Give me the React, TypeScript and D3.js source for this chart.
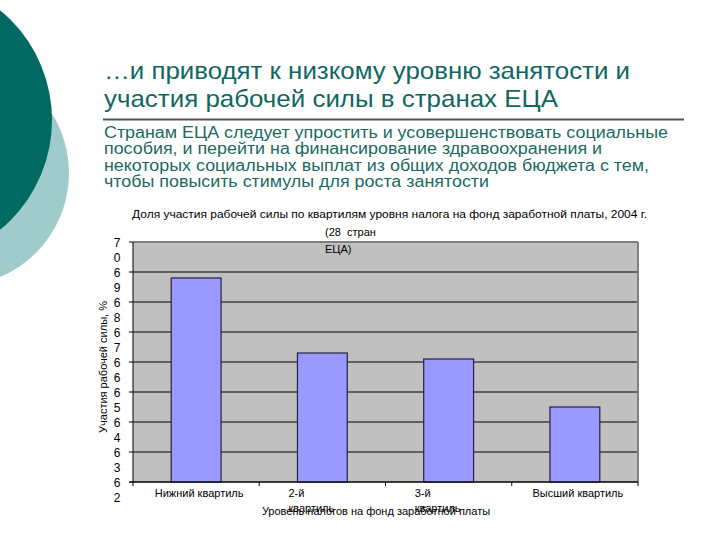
import React from "react";
import * as d3 from "d3";

const titleLines = [
  "…и приводят к низкому уровню занятости и",
  "участия рабочей силы в странах ЕЦА",
];
const bodyLines = [
  "Странам ЕЦА следует упростить и усовершенствовать социальные",
  "пособия, и перейти на финансирование здравоохранения и",
  "некоторых социальных выплат из общих доходов бюджета с тем,",
  "чтобы повысить стимулы для роста занятости",
];
const chartTitle =
  "Доля участия рабочей силы по квартилям уровня налога на фонд заработной платы, 2004 г.";
const chartSubtitle = ["(28  стран", "ЕЦА)"];
const yAxisTitle = "Участия рабочей силы, %";
const xAxisTitle = "Уровень налогов на фонд заработной платы";

const categories = ["Нижний квартиль", "2-й квартиль", "3-й квартиль", "Высший квартиль"];
const categoryLabelLines = [["Нижний квартиль"], ["2-й", "квартиль"], ["3-й", "квартиль"], ["Высший квартиль"]];
const values = [68.8, 66.3, 66.1, 64.5];
const yTicks = [62, 63, 64, 65, 66, 67, 68, 69, 70];

const titleWidths = [526, 454];
const bodyWidths = [564, 498, 545, 385];

export default function App() {
  const plotLeft = 133;
  const plotRight = 638;
  const plotTop = 242;
  const plotBottom = 482;

  const x = d3
    .scaleBand<string>()
    .domain(categories)
    .range([plotLeft, plotRight])
    .paddingInner(0.605)
    .paddingOuter(0.3025);
  const y = d3.scaleLinear().domain([62, 70]).range([plotBottom, plotTop]);
  const step = x.step();

  const chartFont = "'Liberation Sans', Arial, sans-serif";
  const titleColor = "#11675f";
  const bodyColor = "#1b6a60";

  return (
    <svg
      width={720}
      height={540}
      style={{ position: "fixed", left: 0, top: 0, background: "#fff" }}
      fontFamily={chartFont}
    >
      <rect x={0} y={0} width={720} height={540} fill="#ffffff" />
      {/* decorative circles */}
      <circle cx={-44} cy={173} r={113} fill="#9fcbcb" />
      <circle cx={-90} cy={120} r={142} fill="#006a62" />

      {/* slide title */}
      {titleLines.map((t, i) => (
        <text
          key={i}
          x={104}
          y={79 + i * 28}
          fontSize={24}
          fill={titleColor}
          textLength={titleWidths[i]}
          lengthAdjust="spacingAndGlyphs"
        >
          {t}
        </text>
      ))}
      <line x1={103} x2={684} y1={119.5} y2={119.5} stroke="#555" strokeWidth={2} />
      {bodyLines.map((t, i) => (
        <text
          key={i}
          x={104}
          y={137.5 + i * 16.5}
          fontSize={16}
          fill={bodyColor}
          textLength={bodyWidths[i]}
          lengthAdjust="spacingAndGlyphs"
        >
          {t}
        </text>
      ))}

      {/* chart titles */}
      <text x={132} y={218} fontSize={11} fill="#000" textLength={515} lengthAdjust="spacingAndGlyphs">
        {chartTitle}
      </text>

      {/* plot area */}
      <rect x={plotLeft} y={plotTop} width={plotRight - plotLeft} height={plotBottom - plotTop} fill="#c0c0c0" />
      {yTicks.map((v) => (
        <line key={"g" + v} x1={plotLeft} x2={plotRight} y1={y(v)} y2={y(v)} stroke="#000" strokeWidth={1} />
      ))}
      <line x1={plotLeft} x2={plotRight} y1={plotTop} y2={plotTop} stroke="#808080" strokeWidth={2} />
      <line x1={plotRight} x2={plotRight} y1={plotTop} y2={plotBottom} stroke="#808080" strokeWidth={2} />

      {chartSubtitle.map((t, i) => (
        <text key={i} x={325} y={236 + i * 17} fontSize={11} fill="#000" style={{ whiteSpace: "pre" }}>
          {t}
        </text>
      ))}

      {/* bars */}
      {categories.map((c, i) => (
        <rect
          key={c}
          x={x(c)}
          y={y(values[i])}
          width={x.bandwidth()}
          height={plotBottom - y(values[i])}
          fill="#9999ff"
          stroke="#222244"
          strokeWidth={1.2}
        />
      ))}

      {/* axes */}
      <line x1={plotLeft} x2={plotLeft} y1={plotTop} y2={plotBottom} stroke="#000" strokeWidth={1} />
      <line x1={plotLeft - 4} x2={plotRight} y1={plotBottom} y2={plotBottom} stroke="#000" strokeWidth={1} />
      {yTicks.map((v) => (
        <line key={"t" + v} x1={plotLeft - 4} x2={plotLeft} y1={y(v)} y2={y(v)} stroke="#000" />
      ))}
      {[0, 1, 2, 3, 4].map((k) => (
        <line
          key={"xt" + k}
          x1={plotLeft + k * step}
          x2={plotLeft + k * step}
          y1={plotBottom}
          y2={plotBottom + 4}
          stroke="#000"
        />
      ))}

      {/* y tick labels, split into two lines as in original */}
      {yTicks.map((v) => {
        const s = String(v);
        return (
          <text key={"yl" + v} x={117} fontSize={12} fill="#000" textAnchor="middle">
            <tspan x={117} y={y(v) + 5}>
              {s[0]}
            </tspan>
            <tspan x={117} y={y(v) + 20}>
              {s.slice(1)}
            </tspan>
          </text>
        );
      })}

      {/* x category labels */}
      {categories.map((c, i) => {
        const lines = categoryLabelLines[i];
        const cx = (x(c) as number) + x.bandwidth() / 2;
        if (lines.length === 1) {
          return (
            <text key={"xl" + c} x={cx + 3} y={497} fontSize={11} textAnchor="middle" fill="#000">
              {lines[0]}
            </text>
          );
        }
        return (
          <text key={"xl" + c} fontSize={11} fill="#000">
            {lines.map((l, j) => (
              <tspan key={j} x={cx - 34} y={497 + j * 15}>
                {l}
              </tspan>
            ))}
          </text>
        );
      })}

      {/* axis titles */}
      <text x={376} y={515} fontSize={11} textAnchor="middle" fill="#000">
        {xAxisTitle}
      </text>
      <text
        transform={`translate(107, ${(plotTop + plotBottom) / 2 + 5}) rotate(-90)`}
        fontSize={11}
        textAnchor="middle"
        fill="#000"
      >
        {yAxisTitle}
      </text>
    </svg>
  );
}
